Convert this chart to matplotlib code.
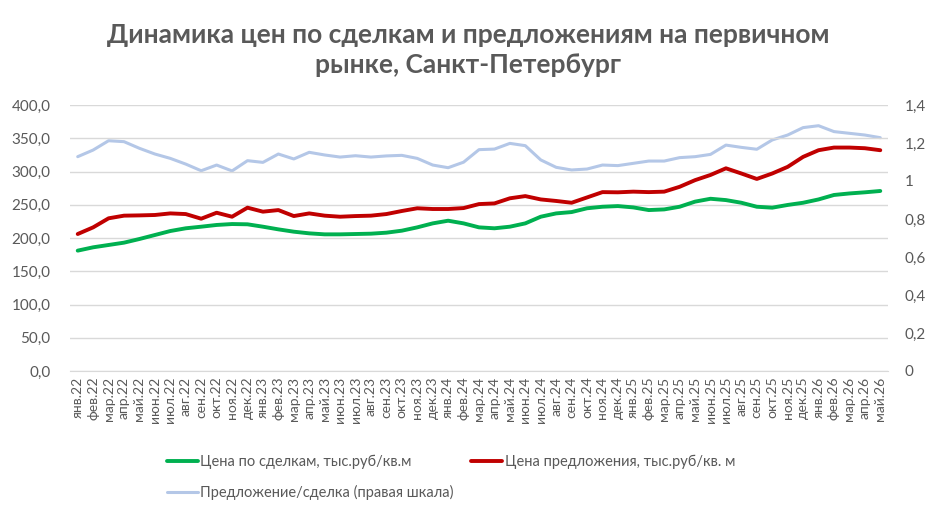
import matplotlib.pyplot as plt
from matplotlib.ticker import FuncFormatter, MultipleLocator

plt.rcParams['font.family'] = ['Lato', 'DejaVu Sans']

# months янв.22 .. май.26
months = [
    "янв.22", "фев.22", "мар.22", "апр.22", "май.22", "июн.22", "июл.22", "авг.22",
    "сен.22", "окт.22", "ноя.22", "дек.22",
    "янв.23", "фев.23", "мар.23", "апр.23", "май.23", "июн.23", "июл.23", "авг.23",
    "сен.23", "окт.23", "ноя.23", "дек.23",
    "янв.24", "фев.24", "мар.24", "апр.24", "май.24", "июн.24", "июл.24", "авг.24",
    "сен.24", "окт.24", "ноя.24", "дек.24",
    "янв.25", "фев.25", "мар.25", "апр.25", "май.25", "июн.25", "июл.25", "авг.25",
    "сен.25", "окт.25", "ноя.25", "дек.25",
    "янв.26", "фев.26", "мар.26", "апр.26", "май.26",
]

deal_price = [
    181, 186, 189.5, 193, 198.5, 204.5, 210.5, 214.6, 217, 219.6, 221, 220.6,
    217, 213, 209.5, 207, 205.5, 205.5, 206, 206.5, 208, 211, 216, 222,
    226, 222, 216, 214.6, 217, 222, 232, 237, 239, 244.7, 247, 248,
    246, 242, 243, 247, 254.7, 259, 257, 253, 247, 245.6, 249.7, 253,
    258, 264.7, 267, 268.7, 270.7,
]

offer_price = [
    206, 216, 229.6, 233.6, 234, 234.6, 237, 236, 229, 238, 232, 245.6,
    239.6, 242, 233, 237, 233.6, 232, 233, 233.6, 236, 240.6, 244.7, 243.6,
    243.6, 245, 251, 252, 259.7, 263, 258, 255.7, 253, 261, 269, 268.7,
    269.7, 269, 269.7, 277, 287, 294.8, 304.8, 297, 288.8, 297, 307, 322,
    332, 336, 336, 335, 332,
]

ratio = [
    1.128, 1.163, 1.212, 1.207, 1.172, 1.142, 1.119, 1.089, 1.054, 1.084, 1.053, 1.107,
    1.098, 1.142, 1.116, 1.151, 1.137, 1.126, 1.133, 1.126, 1.132, 1.135, 1.119, 1.084,
    1.070, 1.099, 1.165, 1.168, 1.198, 1.186, 1.111, 1.072, 1.058, 1.063, 1.084, 1.081,
    1.093, 1.105, 1.105, 1.123, 1.128, 1.140, 1.189, 1.177, 1.167, 1.216, 1.242, 1.281,
    1.291, 1.260, 1.251, 1.242, 1.228,
]

label_deal = "Цена по сделкам, тыс.руб/кв.м"
label_offer = "Цена предложения, тыс.руб/кв. м"
label_ratio = "Предложение/сделка (правая шкала)"

text_color = "#595959"
grid_color = "#D9D9D9"

fig = plt.figure(figsize=(9.36, 5.16), dpi=100)
ax = fig.add_axes([70 / 936, 1 - 371 / 516, 818 / 936, 266 / 516])
ax2 = ax.twinx()

x = list(range(len(months)))

l3, = ax2.plot(x, ratio, color="#B4C7E7", lw=2.2, solid_capstyle="round",
               solid_joinstyle="round", label=label_ratio)
l1, = ax.plot(x, deal_price, color="#00B050", lw=2.8, solid_capstyle="round",
              solid_joinstyle="round", label=label_deal, zorder=3)
l2, = ax.plot(x, offer_price, color="#C00000", lw=2.8, solid_capstyle="round",
              solid_joinstyle="round", label=label_offer, zorder=3)

# left axis on top of twin so the price lines are drawn over the ratio line
ax.set_zorder(ax2.get_zorder() + 1)
ax.patch.set_visible(False)

ax.set_xlim(-0.5, len(months) - 0.5)
ax.set_ylim(0, 400)
ax2.set_ylim(0, 1.4)
ax.yaxis.set_major_locator(MultipleLocator(50))
ax2.yaxis.set_major_locator(MultipleLocator(0.2))
ax.yaxis.set_major_formatter(FuncFormatter(lambda v, p: f"{v:.1f}".replace(".", ",")))


def right_fmt(v, p):
    s = f"{v:.1f}"
    if s.endswith(".0"):
        s = s[:-2]
    return s.replace(".", ",")


ax2.yaxis.set_major_formatter(FuncFormatter(right_fmt))

ax.grid(axis="y", color=grid_color, lw=1)
ax.set_axisbelow(True)
for a in (ax, ax2):
    for s in a.spines.values():
        s.set_visible(False)
ax.spines["bottom"].set_visible(True)
ax.spines["bottom"].set_color(grid_color)

ax.set_xticks(x)
ax.set_xticklabels(months, rotation=90, fontsize=10, color=text_color)
ax.tick_params(axis="x", length=0, pad=4)
ax.tick_params(axis="y", length=0, pad=14, labelsize=11, labelcolor=text_color)
ax2.tick_params(axis="y", length=0, pad=12, labelsize=11, labelcolor=text_color)

fig.suptitle("Динамика цен по сделкам и предложениям на первичном\nрынке, Санкт-Петербург",
             x=0.5, y=0.955, fontsize=19, fontweight="bold", color=text_color,
             linespacing=1.3)

fig.legend(handles=[l1, l3, l2], loc="center", bbox_to_anchor=(0.482, 0.075), ncol=2,
           frameon=False, fontsize=10.5, labelcolor=text_color, handlelength=2.1,
           handletextpad=0.2, columnspacing=1.2, labelspacing=1.1)

fig.savefig("out.png", dpi=100)
